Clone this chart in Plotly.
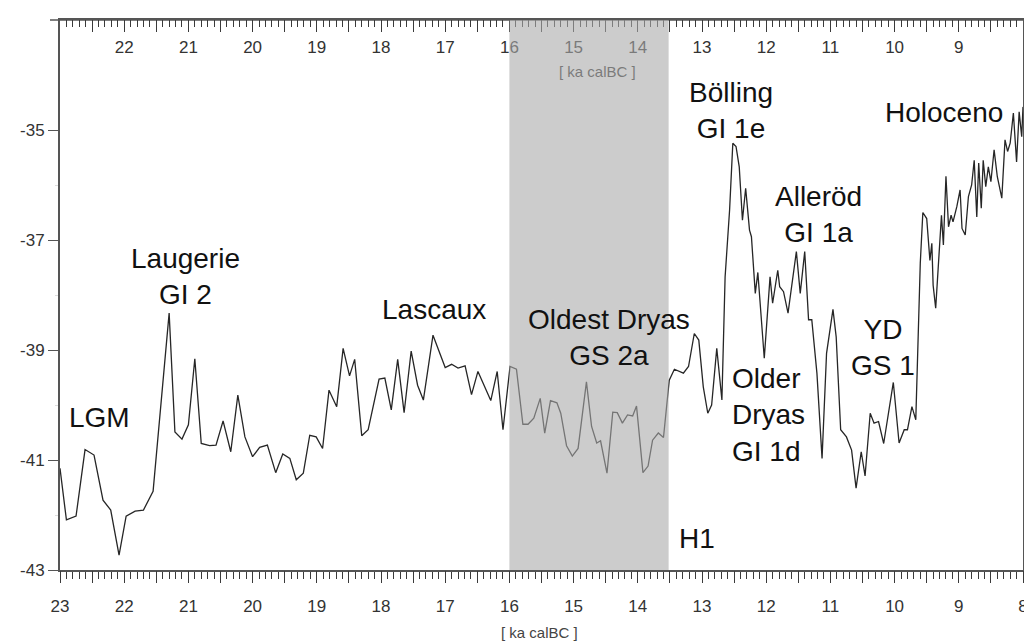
import plotly.graph_objects as go

# Age (ka cal BC) and delta-18O values
age_ka = [23.00, 22.90, 22.75, 22.61, 22.47, 22.33, 22.21, 22.08, 21.97, 21.83,
          21.70, 21.55, 21.30, 21.21, 21.10, 21.00, 20.90, 20.80, 20.67, 20.57,
          20.46, 20.34, 20.23, 20.12, 20.00, 19.89, 19.77, 19.64, 19.53, 19.42,
          19.32, 19.21, 19.11, 19.01, 18.91, 18.81, 18.69, 18.59, 18.49, 18.41,
          18.30, 18.20, 18.03, 17.94, 17.84, 17.74, 17.64, 17.53, 17.43, 17.34,
          17.19, 17.09, 17.00, 16.90, 16.80, 16.69, 16.59, 16.49, 16.39, 16.29,
          16.19, 16.10, 15.99, 15.89, 15.79, 15.71, 15.62, 15.52, 15.45, 15.36,
          15.26, 15.20, 15.11, 15.02, 14.93, 14.80, 14.72, 14.64, 14.58, 14.48,
          14.39, 14.32, 14.24, 14.16, 14.08, 14.02, 13.92, 13.84, 13.77, 13.68,
          13.60, 13.51, 13.43, 13.29, 13.21, 13.12, 13.05, 12.98, 12.91, 12.85,
          12.77, 12.69, 12.64, 12.57, 12.52, 12.47, 12.42, 12.37, 12.32, 12.26,
          12.23, 12.17, 12.13, 12.10, 12.03, 11.94, 11.90, 11.82, 11.79, 11.73,
          11.66, 11.53, 11.47, 11.40, 11.34, 11.29, 11.21, 11.13, 11.06, 10.96,
          10.91, 10.84, 10.75, 10.67, 10.60, 10.52, 10.46, 10.38, 10.32, 10.25,
          10.17, 10.02, 9.93, 9.85, 9.80, 9.73, 9.67, 9.60, 9.56, 9.50,
          9.45, 9.42, 9.40, 9.36, 9.32, 9.27, 9.24, 9.20, 9.16, 9.12,
          9.09, 9.03, 8.98, 8.95, 8.90, 8.85, 8.80, 8.76, 8.72, 8.69,
          8.65, 8.62, 8.58, 8.54, 8.50, 8.45, 8.40, 8.33, 8.28, 8.24,
          8.20, 8.15, 8.10, 8.06, 8.02, 8.00]

d18o = [-41.15, -42.09, -42.02, -40.81, -40.91, -41.73, -41.91, -42.73, -42.02, -41.93,
        -41.91, -41.57, -38.33, -40.49, -40.62, -40.36, -39.16, -40.70, -40.74, -40.73,
        -40.29, -40.85, -39.82, -40.58, -40.94, -40.77, -40.73, -41.23, -40.89, -40.97,
        -41.36, -41.24, -40.55, -40.58, -40.79, -39.73, -40.03, -38.97, -39.47, -39.17,
        -40.56, -40.45, -39.53, -39.51, -40.09, -39.17, -40.14, -39.02, -39.64, -39.91,
        -38.73, -39.06, -39.32, -39.26, -39.33, -39.29, -39.81, -39.39, -39.67, -39.92,
        -39.39, -40.45, -39.30, -39.35, -40.35, -40.35, -40.24, -39.88, -40.51, -39.92,
        -39.96, -40.15, -40.74, -40.93, -40.79, -39.58, -40.39, -40.69, -40.65, -41.24,
        -40.13, -40.14, -40.33, -40.18, -40.20, -40.02, -41.23, -41.11, -40.64, -40.51,
        -40.59, -39.55, -39.35, -39.42, -39.30, -38.70, -38.82, -39.67, -40.15, -40.00,
        -38.97, -39.91, -37.67, -36.45, -35.24, -35.30, -35.67, -36.64, -36.06, -36.82,
        -36.94, -37.97, -37.59, -38.03, -39.15, -37.67, -38.15, -37.55, -37.85, -37.94,
        -38.33, -37.21, -37.97, -37.21, -38.45, -38.45, -39.42, -40.97, -39.06, -38.26,
        -38.76, -40.45, -40.58, -40.82, -41.51, -40.85, -41.29, -40.15, -40.33, -40.30,
        -40.70, -39.59, -40.69, -40.45, -40.45, -40.03, -40.27, -37.42, -36.50, -36.61,
        -37.37, -37.06, -37.82, -38.24, -37.42, -36.55, -37.09, -35.84, -36.76, -36.55,
        -36.67, -36.39, -36.09, -36.79, -36.91, -36.21, -36.00, -35.55, -36.58, -35.60,
        -36.42, -35.55, -36.03, -35.67, -35.94, -35.36, -35.85, -36.24, -35.18, -35.39,
        -35.24, -34.69, -35.58, -34.67, -35.12, -34.58]

# Period labels
label_text = ["LGM", "Laugerie<br>GI 2", "Lascaux", "Oldest Dryas<br>GS 2a",
              "Bölling<br>GI 1e", "Alleröd<br>GI 1a", "Older<br>Dryas<br>GI 1d",
              "YD<br>GS 1", "Holoceno", "H1"]
label_x = [22.38, 21.05, 17.17, 14.45, 12.55, 11.18, 12.56, 10.18, 9.23, 13.08]
label_y = [-40.22, -37.67, -38.27, -38.78, -34.64, -36.53, -40.18, -38.96, -34.69, -42.42]

# Heinrich event 1 band
band_start, band_end = 16.0, 13.52

# tick positions (ka): fine ticks every 0.1, long ticks every 0.5, labels on integers
x_fine = [round(23 - 0.1 * i, 1) for i in range(151)]
x_long = [23 - 0.5 * i for i in range(31)]
x_text_bottom = [str(int(v)) if v == int(v) else "" for v in x_fine]
x_text_top = [t if t not in ("23", "8") else "" for t in x_text_bottom]
y_ticks = [-43, -41, -39, -37, -35]
y_minor = [-42, -40, -38, -36]

AX = "#555555"
TK = "#3a3a3a"
TICKFONT = dict(family="Liberation Sans, Arial, sans-serif", size=17, color="#333333")

fig = go.Figure()
fig.add_trace(go.Scatter(x=age_ka, y=d18o, mode="lines",
                         line=dict(color="#262626", width=1.3),
                         hoverinfo="skip", showlegend=False))
# Top axis label inside the plot (drawn under the shaded band)
fig.add_trace(go.Scatter(x=[14.63], y=[-33.96], mode="text", text=["[ ka calBC ]"],
                         textfont=dict(family="Liberation Sans, Arial", size=15, color="#333333"),
                         hoverinfo="skip", showlegend=False))
for ax_id in ("x2", "x3", "x4"):
    fig.add_trace(go.Scatter(x=age_ka, y=d18o, xaxis=ax_id, mode="lines",
                             line=dict(width=0), opacity=0, hoverinfo="skip", showlegend=False))

fig.add_shape(type="rect", xref="x", yref="paper", x0=band_start, x1=band_end, y0=0, y1=1,
              fillcolor="rgba(170,170,170,0.6)", line=dict(width=0), layer="above")

# frame extensions
fig.add_shape(type="line", xref="paper", yref="paper", x0=-0.0104, x1=1.01, y0=1, y1=1,
              line=dict(color=AX, width=1.5), layer="below")
fig.add_shape(type="line", xref="paper", yref="paper", x0=1.0, x1=1.01, y0=0, y1=0,
              line=dict(color=AX, width=1.5), layer="below")

for t, xv, yv in zip(label_text, label_x, label_y):
    fig.add_annotation(x=xv, y=yv, text=t, showarrow=False,
                       xanchor="left" if t.startswith("Older") else "center",
                       align="left" if t.startswith("Older") else "center",
                       yanchor="middle",
                       font=dict(family="Liberation Sans, Arial, sans-serif", size=28, color="#111111"))

fig.add_annotation(x=0.4984, y=-0.1145, xref="paper", yref="paper", text="[ ka calBC ]",
                   showarrow=False, xanchor="center", yanchor="middle",
                   font=dict(family="Liberation Sans, Arial", size=15, color="#444444"))

# page body adds an 8px offset, so the figure is 8px smaller than the window
fig.update_layout(
    width=1024, height=634,
    margin=dict(l=52, r=9, t=12, b=72),
    paper_bgcolor="white", plot_bgcolor="white",
    showlegend=False,
    xaxis=dict(range=[23, 8], tickmode="array", tickvals=x_fine, ticktext=x_text_bottom,
               ticks="outside", ticklen=7, tickwidth=1.1, tickcolor=TK, automargin=False,
               showline=True, linecolor=AX, linewidth=1.5, showgrid=False, zeroline=False,
               tickfont=TICKFONT, ticklabelstandoff=13),
    xaxis3=dict(range=[23, 8], overlaying="x", side="bottom", anchor="y", automargin=False,
                tickmode="array", tickvals=x_long, showticklabels=False,
                ticks="outside", ticklen=12, tickwidth=1.3, tickcolor=TK,
                showline=False, showgrid=False, zeroline=False),
    xaxis2=dict(range=[23, 8], overlaying="x", side="top", anchor="y", automargin=False,
                tickmode="array", tickvals=x_fine, ticktext=x_text_top,
                ticks="inside", ticklen=7, tickwidth=1.1, tickcolor=TK,
                ticklabelposition="inside", ticklabelstandoff=15,
                showline=True, linecolor=AX, linewidth=1.5,
                showgrid=False, zeroline=False, tickfont=TICKFONT),
    xaxis4=dict(range=[23, 8], overlaying="x", side="top", anchor="y", automargin=False,
                tickmode="array", tickvals=x_long, showticklabels=False,
                ticks="inside", ticklen=12, tickwidth=1.3, tickcolor=TK,
                showline=False, showgrid=False, zeroline=False),
    yaxis=dict(range=[-43, -33], tickmode="array", tickvals=y_ticks,
               ticktext=[str(v) for v in y_ticks], automargin=False,
               ticks="outside", ticklen=10, tickwidth=1.3, tickcolor=AX,
               showline=True, linecolor=AX, linewidth=2, mirror=True,
               showgrid=False, zeroline=False, tickfont=TICKFONT,
               minor=dict(tickmode="array", tickvals=y_minor, ticks="outside",
                          ticklen=3, tickcolor="#dddddd", showgrid=False)),
)

fig.write_html("out.html")
